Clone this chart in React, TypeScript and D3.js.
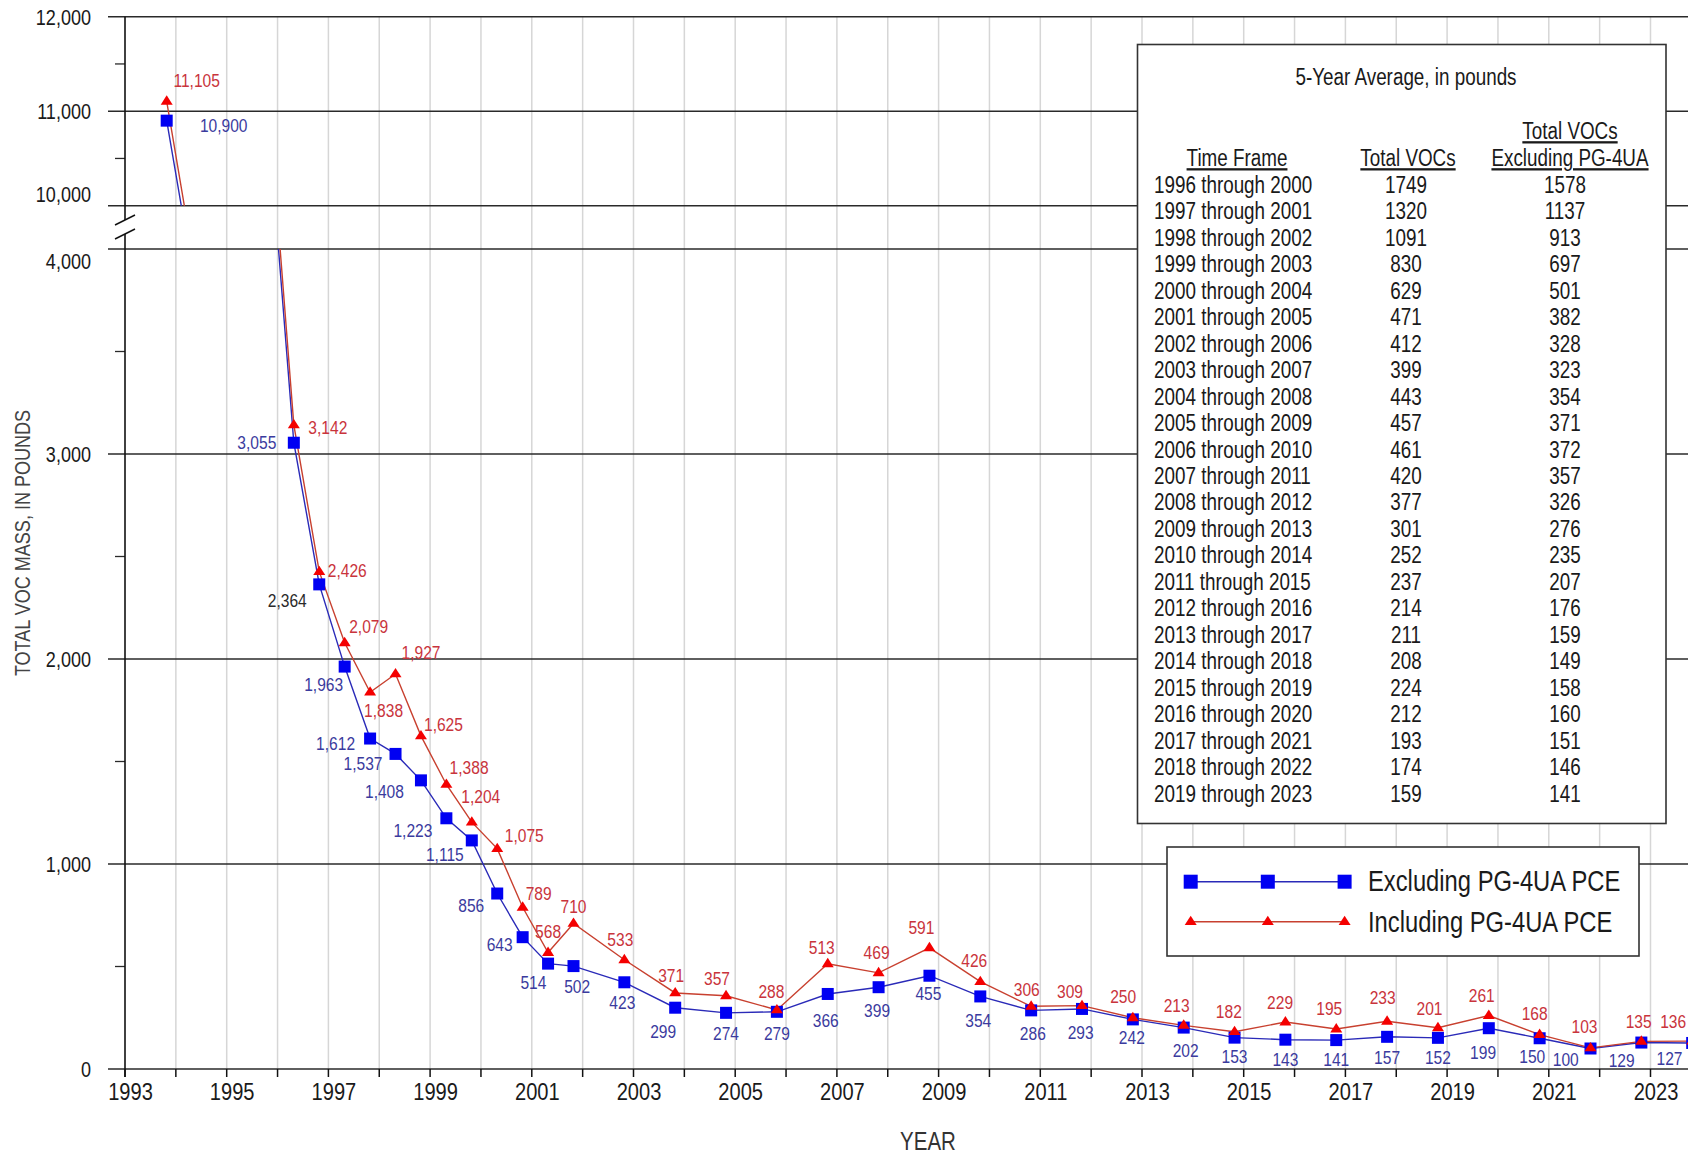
import React from 'react';
import * as d3 from 'd3';

// Sampling events (decimal year) and total VOC mass, in pounds
const sampleYears = [
  1993.82, 1996.32, 1996.82, 1997.32, 1997.82, 1998.32, 1998.82, 1999.32, 1999.82,
  2000.32, 2000.82, 2001.32, 2001.82, 2002.82, 2003.82, 2004.82, 2005.82, 2006.82,
  2007.82, 2008.82, 2009.82, 2010.82, 2011.82, 2012.82, 2013.82, 2014.82, 2015.82,
  2016.82, 2017.82, 2018.82, 2019.82, 2020.82, 2021.82, 2022.82, 2023.82,
];
const excludingPCE = [
  10900, 3055, 2364, 1963, 1612, 1537, 1408, 1223, 1115, 856, 643, 514, 502, 423, 299,
  274, 279, 366, 399, 455, 354, 286, 293, 242, 202, 153, 143, 141, 157, 152, 199, 150,
  100, 129, 127,
];
const includingPCE = [
  11105, 3142, 2426, 2079, 1838, 1927, 1625, 1388, 1204, 1075, 789, 568, 710, 533, 371,
  357, 288, 513, 469, 591, 426, 306, 309, 250, 213, 182, 229, 195, 233, 201, 261, 168,
  103, 135, 136,
];

// Axis ticks
const yearTicks = [
  1993, 1994, 1995, 1996, 1997, 1998, 1999, 2000, 2001, 2002, 2003, 2004, 2005, 2006,
  2007, 2008, 2009, 2010, 2011, 2012, 2013, 2014, 2015, 2016, 2017, 2018, 2019, 2020,
  2021, 2022, 2023,
];
const yearLabels = [
  1993, 1995, 1997, 1999, 2001, 2003, 2005, 2007, 2009, 2011, 2013, 2015, 2017, 2019,
  2021, 2023,
];
const upperMajor = [10000, 11000, 12000];
const upperMinor = [10500, 11500];
const lowerMajor = [0, 1000, 2000, 3000, 4000];
const lowerMinor = [500, 1500, 2500, 3500];

// 5-year averages table
const timeFrames = [
  '1996 through 2000', '1997 through 2001', '1998 through 2002', '1999 through 2003',
  '2000 through 2004', '2001 through 2005', '2002 through 2006', '2003 through 2007',
  '2004 through 2008', '2005 through 2009', '2006 through 2010', '2007 through 2011',
  '2008 through 2012', '2009 through 2013', '2010 through 2014', '2011 through 2015',
  '2012 through 2016', '2013 through 2017', '2014 through 2018', '2015 through 2019',
  '2016 through 2020', '2017 through 2021', '2018 through 2022', '2019 through 2023',
];
const avgTotalVOCs = [
  1749, 1320, 1091, 830, 629, 471, 412, 399, 443, 457, 461, 420, 377, 301, 252, 237,
  214, 211, 208, 224, 212, 193, 174, 159,
];
const avgExcludingPG4UA = [
  1578, 1137, 913, 697, 501, 382, 328, 323, 354, 371, 372, 357, 326, 276, 235, 207,
  176, 159, 149, 158, 160, 151, 146, 141,
];

// Value-label placement around each marker (dx, dy of label centre, px)
const blueLabelOffsets: [number, number][] = [
  [57, 5], [-37, -1], [-32, 16], [-21, 18], [-34.5, 5], [-32.5, 9.5], [-36.5, 11],
  [-33.5, 12], [-27, 14], [-26, 11.5], [-23, 7], [-14.7, 19], [3.7, 20.6], [-2, 20],
  [-12, 23], [0, 20.5], [0, 21.5], [-2, 26], [-1.5, 23], [-1, 17.6], [-2, 23.6],
  [1.7, 23], [-1.3, 22.8], [-1, 18], [2, 22.4], [0, 18.4], [0, 19.6], [0, 19.2],
  [0, 20], [0, 19], [-5.7, 23.5], [-7.4, 18.4], [-24.7, 10.8], [-19.7, 17.4], [-22.7, 15.3],
];
const redLabelOffsets: [number, number][] = [
  [30, -20.6], [34, 2], [28, -1], [24, -17], [13.5, 18], [25.5, -22], [22.5, -12],
  [22.7, -17], [9, -25.5], [27, -13.6], [16, -14], [0, -21], [0, -17], [-4, -21],
  [-4, -18], [-9, -17.5], [-5.5, -18.3], [-6, -17], [-2, -21], [-8, -21], [-6, -21.7],
  [-4.4, -17], [-12, -14], [-9.7, -21.7], [-7, -20.3], [-5.7, -20], [-5.3, -19.4],
  [-7, -20.7], [-4.4, -24.5], [-8.4, -19.5], [-7, -20.5], [-5, -21.3], [-6, -21.2],
  [-2.7, -20.6], [-19, -20],
];

const W = 1688;
const H = 1155;
const LEFT = 125;
const RIGHT = W;
const TOP = 16.7;
const UPPER_BOTTOM = 205.7;
const LOWER_TOP = 249;
const BOTTOM = 1069;
const YEAR_PX = 50.85;

const FONT = '"Liberation Sans", Arial, Helvetica, sans-serif';
const SX = 0.82; // condensed type

const BLUE_LINE = '#2a2ab8';
const BLUE_MARK = '#0000f2';
const BLUE_TEXT = '#3b3b9e';
const RED_LINE = '#c8402f';
const RED_MARK = '#f40000';
const RED_TEXT = '#c9343c';
const GRID_V = '#d6d6d6';
const INK = '#1a1a1a';

const x = d3.scaleLinear().domain([1993, 2024]).range([LEFT, LEFT + 31 * YEAR_PX]);
const yUp = d3.scaleLinear().domain([10000, 12000]).range([UPPER_BOTTOM, TOP]);
const yLo = d3.scaleLinear().domain([0, 4000]).range([BOTTOM, LOWER_TOP]);
const yAt = (v: number) => (v >= 10000 ? yUp(v) : yLo(v));
const fmt = d3.format(',');

type TProps = {
  x: number;
  y: number;
  size: number;
  fill?: string;
  anchor?: 'start' | 'middle' | 'end';
  rotate?: number;
  underline?: boolean;
  children: React.ReactNode;
};

function T({ x: tx, y: ty, size, fill = INK, anchor = 'start', rotate = 0, underline, children }: TProps) {
  return (
    <text
      transform={`translate(${tx},${ty})${rotate ? ` rotate(${rotate})` : ''} scale(${SX},1)`}
      fontSize={size}
      fontFamily={FONT}
      fill={fill}
      textAnchor={anchor}
      style={underline ? { textDecoration: 'underline' } : undefined}
    >
      {children}
    </text>
  );
}

const square = (cx: number, cy: number, s: number, fill: string, key?: React.Key) => (
  <rect key={key} x={cx - s / 2} y={cy - s / 2} width={s} height={s} fill={fill} />
);
const triangle = (cx: number, cy: number, fill: string, key?: React.Key) => (
  <path key={key} d={`M${cx},${cy - 6}L${cx + 6},${cy + 3.4}L${cx - 6},${cy + 3.4}Z`} fill={fill} />
);

function seriesPaths(values: number[], stroke: string) {
  const up = d3.line<number>().x((_, i) => x(sampleYears[i])).y((v) => yUp(v));
  const lo = d3.line<number>().x((_, i) => x(sampleYears[i])).y((v) => yLo(v));
  return (
    <g fill="none" stroke={stroke} strokeWidth={1.4}>
      <path d={up(values) ?? ''} clipPath="url(#clipUpper)" />
      <path d={lo(values) ?? ''} clipPath="url(#clipLower)" />
    </g>
  );
}

export default function App() {
  const rowBase = 192.7;
  const rowStep = 26.48;
  return (
    <svg
      width={W}
      height={H}
      viewBox={`0 0 ${W} ${H}`}
      style={{ position: 'absolute', left: 0, top: 0, background: '#fff' }}
    >
      <defs>
        <clipPath id="clipUpper">
          <rect x={LEFT} y={TOP} width={RIGHT - LEFT} height={UPPER_BOTTOM - TOP} />
        </clipPath>
        <clipPath id="clipLower">
          <rect x={LEFT} y={LOWER_TOP} width={RIGHT - LEFT} height={BOTTOM - LOWER_TOP} />
        </clipPath>
      </defs>
      <rect width={W} height={H} fill="#fff" />

      {/* vertical year gridlines */}
      {yearTicks.slice(1).map((yr) => (
        <line key={`vg${yr}`} x1={x(yr)} x2={x(yr)} y1={TOP} y2={BOTTOM} stroke={GRID_V} strokeWidth={1.5} />
      ))}

      {/* horizontal major gridlines with ticks */}
      {upperMajor.map((v) => (
        <line key={`hu${v}`} x1={LEFT - 17} x2={RIGHT} y1={yUp(v)} y2={yUp(v)} stroke="#2a2a2a" strokeWidth={1.5} />
      ))}
      {lowerMajor.map((v) => (
        <line key={`hl${v}`} x1={LEFT - 17} x2={RIGHT} y1={yLo(v)} y2={yLo(v)} stroke="#2a2a2a" strokeWidth={1.5} />
      ))}
      {upperMinor.map((v) => (
        <line key={`mu${v}`} x1={LEFT - 10} x2={LEFT} y1={yUp(v)} y2={yUp(v)} stroke="#2a2a2a" strokeWidth={1.3} />
      ))}
      {lowerMinor.map((v) => (
        <line key={`ml${v}`} x1={LEFT - 10} x2={LEFT} y1={yLo(v)} y2={yLo(v)} stroke="#2a2a2a" strokeWidth={1.3} />
      ))}

      {/* y axis with break */}
      <line x1={LEFT} x2={LEFT} y1={TOP} y2={220} stroke="#111" strokeWidth={1.6} />
      <line x1={LEFT} x2={LEFT} y1={234} y2={BOTTOM + 8} stroke="#111" strokeWidth={1.6} />
      <line x1={115} y1={225} x2={135} y2={215} stroke="#111" strokeWidth={1.5} />
      <line x1={115} y1={239} x2={135} y2={229} stroke="#111" strokeWidth={1.5} />

      {/* x axis ticks */}
      {yearTicks.map((yr) => (
        <line key={`xt${yr}`} x1={x(yr)} x2={x(yr)} y1={BOTTOM} y2={BOTTOM + 8} stroke="#111" strokeWidth={1.5} />
      ))}
      {yearLabels.map((yr) => (
        <T key={`xl${yr}`} x={x(yr) + 5.5} y={1100} size={24.5} anchor="middle">
          {yr}
        </T>
      ))}

      {/* y tick labels (the two labels at the break are nudged apart) */}
      {upperMajor.map((v) => (
        <T key={`yu${v}`} x={91} y={yUp(v) + 7.9 + (v === 10000 ? -12 : 0)} size={22} anchor="end">
          {fmt(v)}
        </T>
      ))}
      {lowerMajor.map((v) => (
        <T key={`yl${v}`} x={91} y={yLo(v) + 7.9 + (v === 4000 ? 12 : 0)} size={22} anchor="end">
          {fmt(v)}
        </T>
      ))}

      {/* axis titles */}
      <T x={29.5} y={543} size={22} anchor="middle" rotate={-90} fill="#444">
        TOTAL VOC MASS, IN POUNDS
      </T>
      <T x={928} y={1150} size={25} anchor="middle" fill="#333">
        YEAR
      </T>

      {/* 5-year average table */}
      <rect x={1137.5} y={44.5} width={528.5} height={779} fill="#fff" stroke="#333" strokeWidth={1.6} />
      <T x={1406} y={85} size={23} anchor="middle">
        5-Year Average, in pounds
      </T>
      <T x={1237} y={166} size={23} anchor="middle" underline>
        Time Frame
      </T>
      <T x={1408} y={166} size={23} anchor="middle" underline>
        Total VOCs
      </T>
      <T x={1570} y={139} size={23} anchor="middle" underline>
        Total VOCs
      </T>
      <T x={1570} y={166} size={23} anchor="middle" underline>
        Excluding PG-4UA
      </T>
      {timeFrames.map((tf, i) => (
        <g key={`row${i}`}>
          <T x={1154} y={rowBase + i * rowStep} size={23}>
            {tf}
          </T>
          <T x={1406} y={rowBase + i * rowStep} size={23} anchor="middle">
            {avgTotalVOCs[i]}
          </T>
          <T x={1565} y={rowBase + i * rowStep} size={23} anchor="middle">
            {avgExcludingPG4UA[i]}
          </T>
        </g>
      ))}

      {/* legend */}
      <rect x={1167} y={847} width={472} height={109} fill="#fff" stroke="#333" strokeWidth={1.6} />
      <line x1={1190.7} x2={1344.6} y1={881.7} y2={881.7} stroke={BLUE_LINE} strokeWidth={1.4} />
      {[1190.7, 1267.8, 1344.6].map((lx, i) => square(lx, 881.7, 14, BLUE_MARK, `lb${i}`))}
      <T x={1368} y={891} size={29}>
        Excluding PG-4UA PCE
      </T>
      <line x1={1190.7} x2={1344.6} y1={921.7} y2={921.7} stroke={RED_LINE} strokeWidth={1.4} />
      {[1190.7, 1267.8, 1344.6].map((lx, i) => triangle(lx, 921.7, RED_MARK, `lr${i}`))}
      <T x={1368} y={932} size={29}>
        Including PG-4UA PCE
      </T>

      {/* series lines */}
      {seriesPaths(excludingPCE, BLUE_LINE)}
      {seriesPaths(includingPCE, RED_LINE)}

      {/* markers */}
      {excludingPCE.map((v, i) => square(x(sampleYears[i]), yAt(v), 12, BLUE_MARK, `bs${i}`))}
      {includingPCE.map((v, i) => triangle(x(sampleYears[i]), yAt(v), RED_MARK, `rt${i}`))}

      {/* value labels */}
      {excludingPCE.map((v, i) => (
        <T
          key={`bl${i}`}
          x={x(sampleYears[i]) + blueLabelOffsets[i][0]}
          y={yAt(v) + blueLabelOffsets[i][1] + 6.8}
          size={19}
          anchor="middle"
          fill={v === 2364 ? '#2a2a2a' : BLUE_TEXT}
        >
          {fmt(v)}
        </T>
      ))}
      {includingPCE.map((v, i) => (
        <T
          key={`rl${i}`}
          x={x(sampleYears[i]) + redLabelOffsets[i][0]}
          y={yAt(v) + redLabelOffsets[i][1] + 6.8}
          size={19}
          anchor="middle"
          fill={RED_TEXT}
        >
          {fmt(v)}
        </T>
      ))}
    </svg>
  );
}
